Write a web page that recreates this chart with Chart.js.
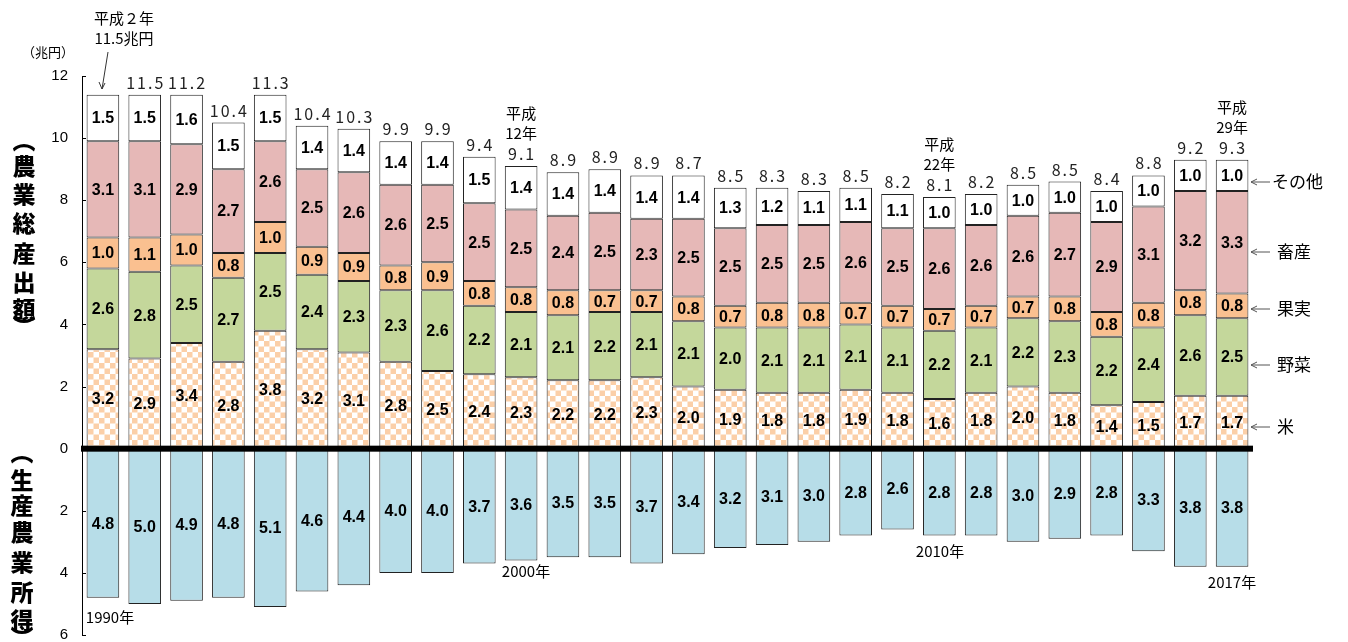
<!DOCTYPE html>
<html>
<head>
<meta charset="utf-8">
<script src="https://cdn.jsdelivr.net/npm/chart.js@4"></script>
<style>
  html, body { margin: 0; padding: 0; background: #fff; }
  #wrap { width: 1348px; height: 642px; }
</style>
</head>
<body>
<div id="wrap"><canvas id="c" width="1348" height="642"></canvas></div>
<script>
// 1990..2017
const years = ['1990','1991','1992','1993','1994','1995','1996','1997','1998','1999','2000','2001','2002','2003','2004','2005','2006','2007','2008','2009','2010','2011','2012','2013','2014','2015','2016','2017'];
const totals = [11.5, 11.5, 11.2, 10.4, 11.3, 10.4, 10.3, 9.9, 9.9, 9.4, 9.1, 8.9, 8.9, 8.9, 8.7, 8.5, 8.3, 8.3, 8.5, 8.2, 8.1, 8.2, 8.5, 8.5, 8.4, 8.8, 9.2, 9.3];
const rice = [3.2, 2.9, 3.4, 2.8, 3.8, 3.2, 3.1, 2.8, 2.5, 2.4, 2.3, 2.2, 2.2, 2.3, 2.0, 1.9, 1.8, 1.8, 1.9, 1.8, 1.6, 1.8, 2.0, 1.8, 1.4, 1.5, 1.7, 1.7];
const vegetables = [2.6, 2.8, 2.5, 2.7, 2.5, 2.4, 2.3, 2.3, 2.6, 2.2, 2.1, 2.1, 2.2, 2.1, 2.1, 2.0, 2.1, 2.1, 2.1, 2.1, 2.2, 2.1, 2.2, 2.3, 2.2, 2.4, 2.6, 2.5];
const fruit = [1.0, 1.1, 1.0, 0.8, 1.0, 0.9, 0.9, 0.8, 0.9, 0.8, 0.8, 0.8, 0.7, 0.7, 0.8, 0.7, 0.8, 0.8, 0.7, 0.7, 0.7, 0.7, 0.7, 0.8, 0.8, 0.8, 0.8, 0.8];
const livestock = [3.1, 3.1, 2.9, 2.7, 2.6, 2.5, 2.6, 2.6, 2.5, 2.5, 2.5, 2.4, 2.5, 2.3, 2.5, 2.5, 2.5, 2.5, 2.6, 2.5, 2.6, 2.6, 2.6, 2.7, 2.9, 3.1, 3.2, 3.3];
const other = [1.5, 1.5, 1.6, 1.5, 1.5, 1.4, 1.4, 1.4, 1.4, 1.5, 1.4, 1.4, 1.4, 1.4, 1.4, 1.3, 1.2, 1.1, 1.1, 1.1, 1.0, 1.0, 1.0, 1.0, 1.0, 1.0, 1.0, 1.0];
const income = [4.8, 5.0, 4.9, 4.8, 5.1, 4.6, 4.4, 4.0, 4.0, 3.7, 3.6, 3.5, 3.5, 3.7, 3.4, 3.2, 3.1, 3.0, 2.8, 2.6, 2.8, 2.8, 3.0, 2.9, 2.8, 3.3, 3.8, 3.8];
const legendNames = ['米', '野菜', '果実', '畜産', 'その他'];
const yTicks = [12, 10, 8, 6, 4, 2, 0, -2, -4, -6];

const JP = '"Noto Sans CJK JP", sans-serif';
const AR = '"Liberation Sans", Arial, sans-serif';

// checker pattern for rice
function checker() {
  const p = document.createElement('canvas');
  p.width = 11; p.height = 11;
  const g = p.getContext('2d');
  g.fillStyle = '#fff'; g.fillRect(0, 0, 11, 11);
  g.fillStyle = '#fbcfa8';
  g.fillRect(0, 0, 5.5, 5.5); g.fillRect(5.5, 5.5, 5.5, 5.5);
  return document.getElementById('c').getContext('2d').createPattern(p, 'repeat');
}

function ds(label, data, bg) {
  return { label, data, backgroundColor: bg, borderColor: '#222', borderWidth: 1, borderSkipped: false, stack: 's' };
}

function arrowLeft(ctx, x1, x2, y) {
  ctx.beginPath();
  ctx.moveTo(x2, y); ctx.lineTo(x1, y);
  ctx.moveTo(x1 + 6, y - 3); ctx.lineTo(x1, y); ctx.lineTo(x1 + 6, y + 3);
  ctx.stroke();
}

// stretch the value axis down to y=635 like the original
const fixArea = {
  id: 'fixArea',
  afterLayout(chart) {
    const ys = chart.scales.y;
    ys.bottom = 635;
    ys.height = ys.bottom - ys.top;
    ys.configure();
    chart.chartArea.bottom = 635;
    chart.chartArea.height = 635 - chart.chartArea.top;
  }
};

const extras = {
  id: 'extras',
  afterDatasetsDraw(chart) {
    const ctx = chart.ctx;
    const ys = chart.scales.y;
    const area = chart.chartArea;
    ctx.save();

    // axis ticks (inside)
    ctx.strokeStyle = '#000'; ctx.lineWidth = 1;
    yTicks.forEach(v => {
      const y = Math.round(ys.getPixelForValue(v)) + 0.5;
      ctx.beginPath(); ctx.moveTo(area.left, y); ctx.lineTo(area.left + 4, y); ctx.stroke();
    });

    // zero line
    const y0 = ys.getPixelForValue(0);
    ctx.fillStyle = '#000';
    ctx.fillRect(area.left - 1, y0 - 3, 1254 - area.left, 6);

    // segment values
    ctx.textAlign = 'center'; ctx.textBaseline = 'middle';
    ctx.font = 'bold 16px ' + AR;
    chart.data.datasets.forEach((d, di) => {
      const meta = chart.getDatasetMeta(di);
      meta.data.forEach((el, i) => {
        const v = di === 5 ? income[i] : d.data[i];
        ctx.fillText(v.toFixed(1), el.x, (el.y + el.base) / 2 + 1);
      });
    });

    // totals on top
    ctx.font = '16px ' + JP;
    ctx.fillStyle = '#222';
    ctx.letterSpacing = '2px';
    const topMeta = chart.getDatasetMeta(4);
    topMeta.data.forEach((el, i) => {
      if (i === 0) return;
      ctx.fillText(totals[i].toFixed(1), el.x + 1, el.y - 12);
    });
    ctx.letterSpacing = '0px';

    // era notes
    ctx.font = '15px ' + JP;
    ctx.fillStyle = '#000';
    const notes = [[10, '平成', '12年'], [20, '平成', '22年'], [27, '平成', '29年']];
    notes.forEach(([i, a, b]) => {
      const el = topMeta.data[i];
      ctx.fillText(a, el.x, el.y - 53);
      ctx.fillText(b, el.x, el.y - 33);
    });
    ctx.fillText('平成２年', 124, 18);
    ctx.fillText('11.5兆円', 124, 38);
    ctx.strokeStyle = '#333';
    ctx.beginPath(); ctx.moveTo(108, 52); ctx.lineTo(102, 89); ctx.stroke();
    ctx.beginPath(); ctx.moveTo(99, 82); ctx.lineTo(102, 89); ctx.lineTo(105, 83); ctx.stroke();

    ctx.font = '13px ' + JP;
    ctx.fillText('（兆円）', 48, 52);

    // year labels
    ctx.font = '15px ' + JP;
    ctx.fillText('1990年', 110, 617);
    ctx.fillText('2000年', 526, 571);
    ctx.fillText('2010年', 940, 551);
    ctx.fillText('2017年', 1232, 582);

    // right legend
    ctx.font = '17px ' + JP;
    ctx.textAlign = 'left';
    ctx.strokeStyle = '#555';
    const legendY = [427, 365, 309, 252, 182];
    legendNames.forEach((n, k) => {
      const y = legendY[k];
      arrowLeft(ctx, 1251, 1270, y);
      ctx.fillText(n, n === 'その他' ? 1272 : 1277, y);
    });

    // vertical axis titles
    ctx.font = '900 23px ' + JP;
    ctx.textAlign = 'center';
    const t1 = ['︵', '農', '業', '総', '産', '出', '額', '︶'];
    const t1y = [140, 166, 194, 223, 253, 282, 309, 326];
    t1.forEach((ch, k) => ctx.fillText(ch, 24, t1y[k]));
    const t2 = ['︵', '生', '産', '農', '業', '所', '得', '︶'];
    const t2y = [452, 480, 505, 532, 562, 592, 620, 637];
    t2.forEach((ch, k) => ctx.fillText(ch, 22, t2y[k]));

    ctx.restore();
  }
};

new Chart(document.getElementById('c'), {
  type: 'bar',
  data: {
    labels: years,
    datasets: [
      ds('米', rice, checker()),
      ds('野菜', vegetables, '#c4d79b'),
      ds('果実', fruit, '#fac090'),
      ds('畜産', livestock, '#e6b8b7'),
      ds('その他', other, '#ffffff'),
      ds('生産農業所得', income.map(v => -v), '#b7dde8')
    ]
  },
  options: {
    responsive: false,
    animation: false,
    events: [],
    layout: { padding: { left: 0, right: 95, top: 76, bottom: 7 } },
    datasets: { bar: { categoryPercentage: 1, barPercentage: 0.78 } },
    plugins: { legend: { display: false }, tooltip: { enabled: false } },
    scales: {
      x: { display: false, stacked: true },
      y: {
        stacked: true,
        min: -6, max: 12,
        afterFit(s) { s.width = 82; },
        border: { display: true, color: '#000', width: 1 },
        grid: { display: false, drawTicks: false },
        ticks: {
          stepSize: 2, padding: 14, color: '#000',
          font: { family: AR, size: 15 },
          callback: v => Math.abs(v)
        }
      }
    }
  },
  plugins: [fixArea, extras]
});
</script>
</body>
</html>
